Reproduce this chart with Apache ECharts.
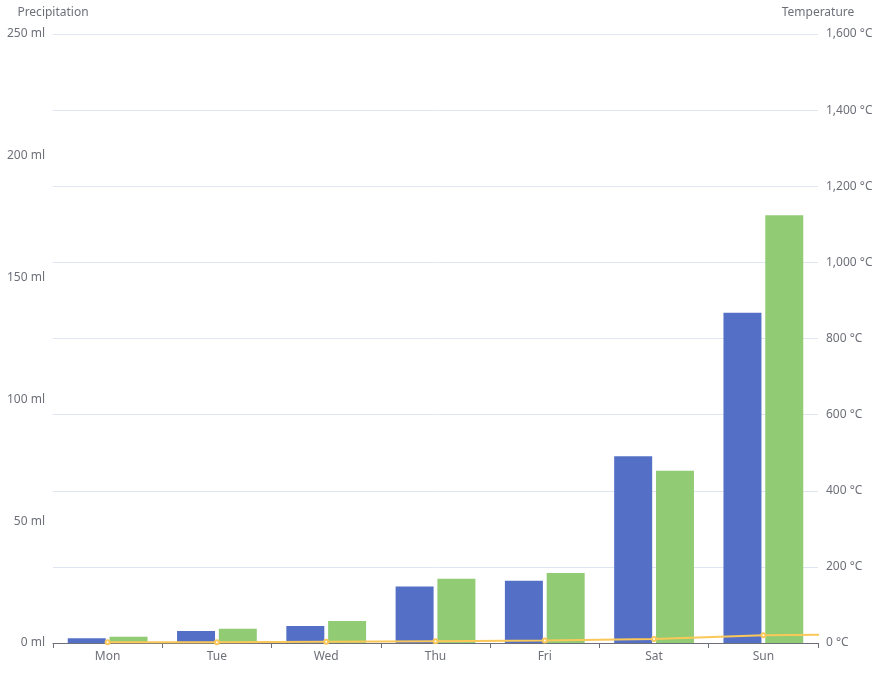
<!DOCTYPE html>
<html>
<head>
<meta charset="utf-8">
<script src="https://cdn.jsdelivr.net/npm/echarts@6/dist/echarts.min.js"></script>
<style>html,body{margin:0;padding:0;background:#fff;}#main{width:884px;height:678px;}</style>
</head>
<body>
<div id="main"></div>
<script>
const categories = ['Mon', 'Tue', 'Wed', 'Thu', 'Fri', 'Sat', 'Sun'];
const evaporation = [2.0, 4.9, 7.0, 23.2, 25.6, 76.7, 135.6];
const precipitation = [2.6, 5.9, 9.0, 26.4, 28.7, 70.7, 175.6];
const temperature = [2.0, 2.2, 3.3, 4.5, 6.3, 10.2, 20.3, 23.4, 23.0, 16.5, 12.0, 6.2];

const FONT = "'Noto Sans', sans-serif";
const chart = echarts.init(document.getElementById('main'), null, {renderer: 'canvas'});
chart.setOption({
  animation: false,
  textStyle: {fontFamily: FONT},
  color: ['#5470c6', '#91cc75', '#fac858'],
  grid: {left: 53, right: 66, top: 34, bottom: 35, containLabel: false},
  xAxis: [{
    type: 'category',
    data: categories,
    axisLine: {lineStyle: {color: '#6E7079'}},
    axisTick: {show: true, lineStyle: {color: '#6E7079'}},
    axisLabel: {color: '#6E7079', fontFamily: FONT, fontSize: 12}
  }],
  yAxis: [{
    type: 'value',
    name: 'Precipitation',
    nameTextStyle: {color: '#6E7079', fontFamily: FONT, fontSize: 12},
    min: 0,
    max: 250,
    interval: 50,
    splitLine: {show: false},
    axisLabel: {formatter: '{value} ml', color: '#6E7079', fontFamily: FONT, fontSize: 12}
  }, {
    type: 'value',
    name: 'Temperature',
    nameTextStyle: {color: '#6E7079', fontFamily: FONT, fontSize: 12},
    min: 0,
    max: 1600,
    interval: 200,
    splitLine: {show: true, lineStyle: {color: '#E0E6F1'}},
    axisLabel: {formatter: '{value} °C', color: '#6E7079', fontFamily: FONT, fontSize: 12}
  }],
  series: [{
    name: 'Evaporation',
    type: 'bar',
    data: evaporation
  }, {
    name: 'Precipitation',
    type: 'bar',
    data: precipitation
  }, {
    name: 'Temperature',
    type: 'line',
    yAxisIndex: 1,
    symbol: 'emptyCircle',
    symbolSize: 4,
    lineStyle: {width: 2},
    data: temperature
  }]
});
</script>
</body>
</html>
